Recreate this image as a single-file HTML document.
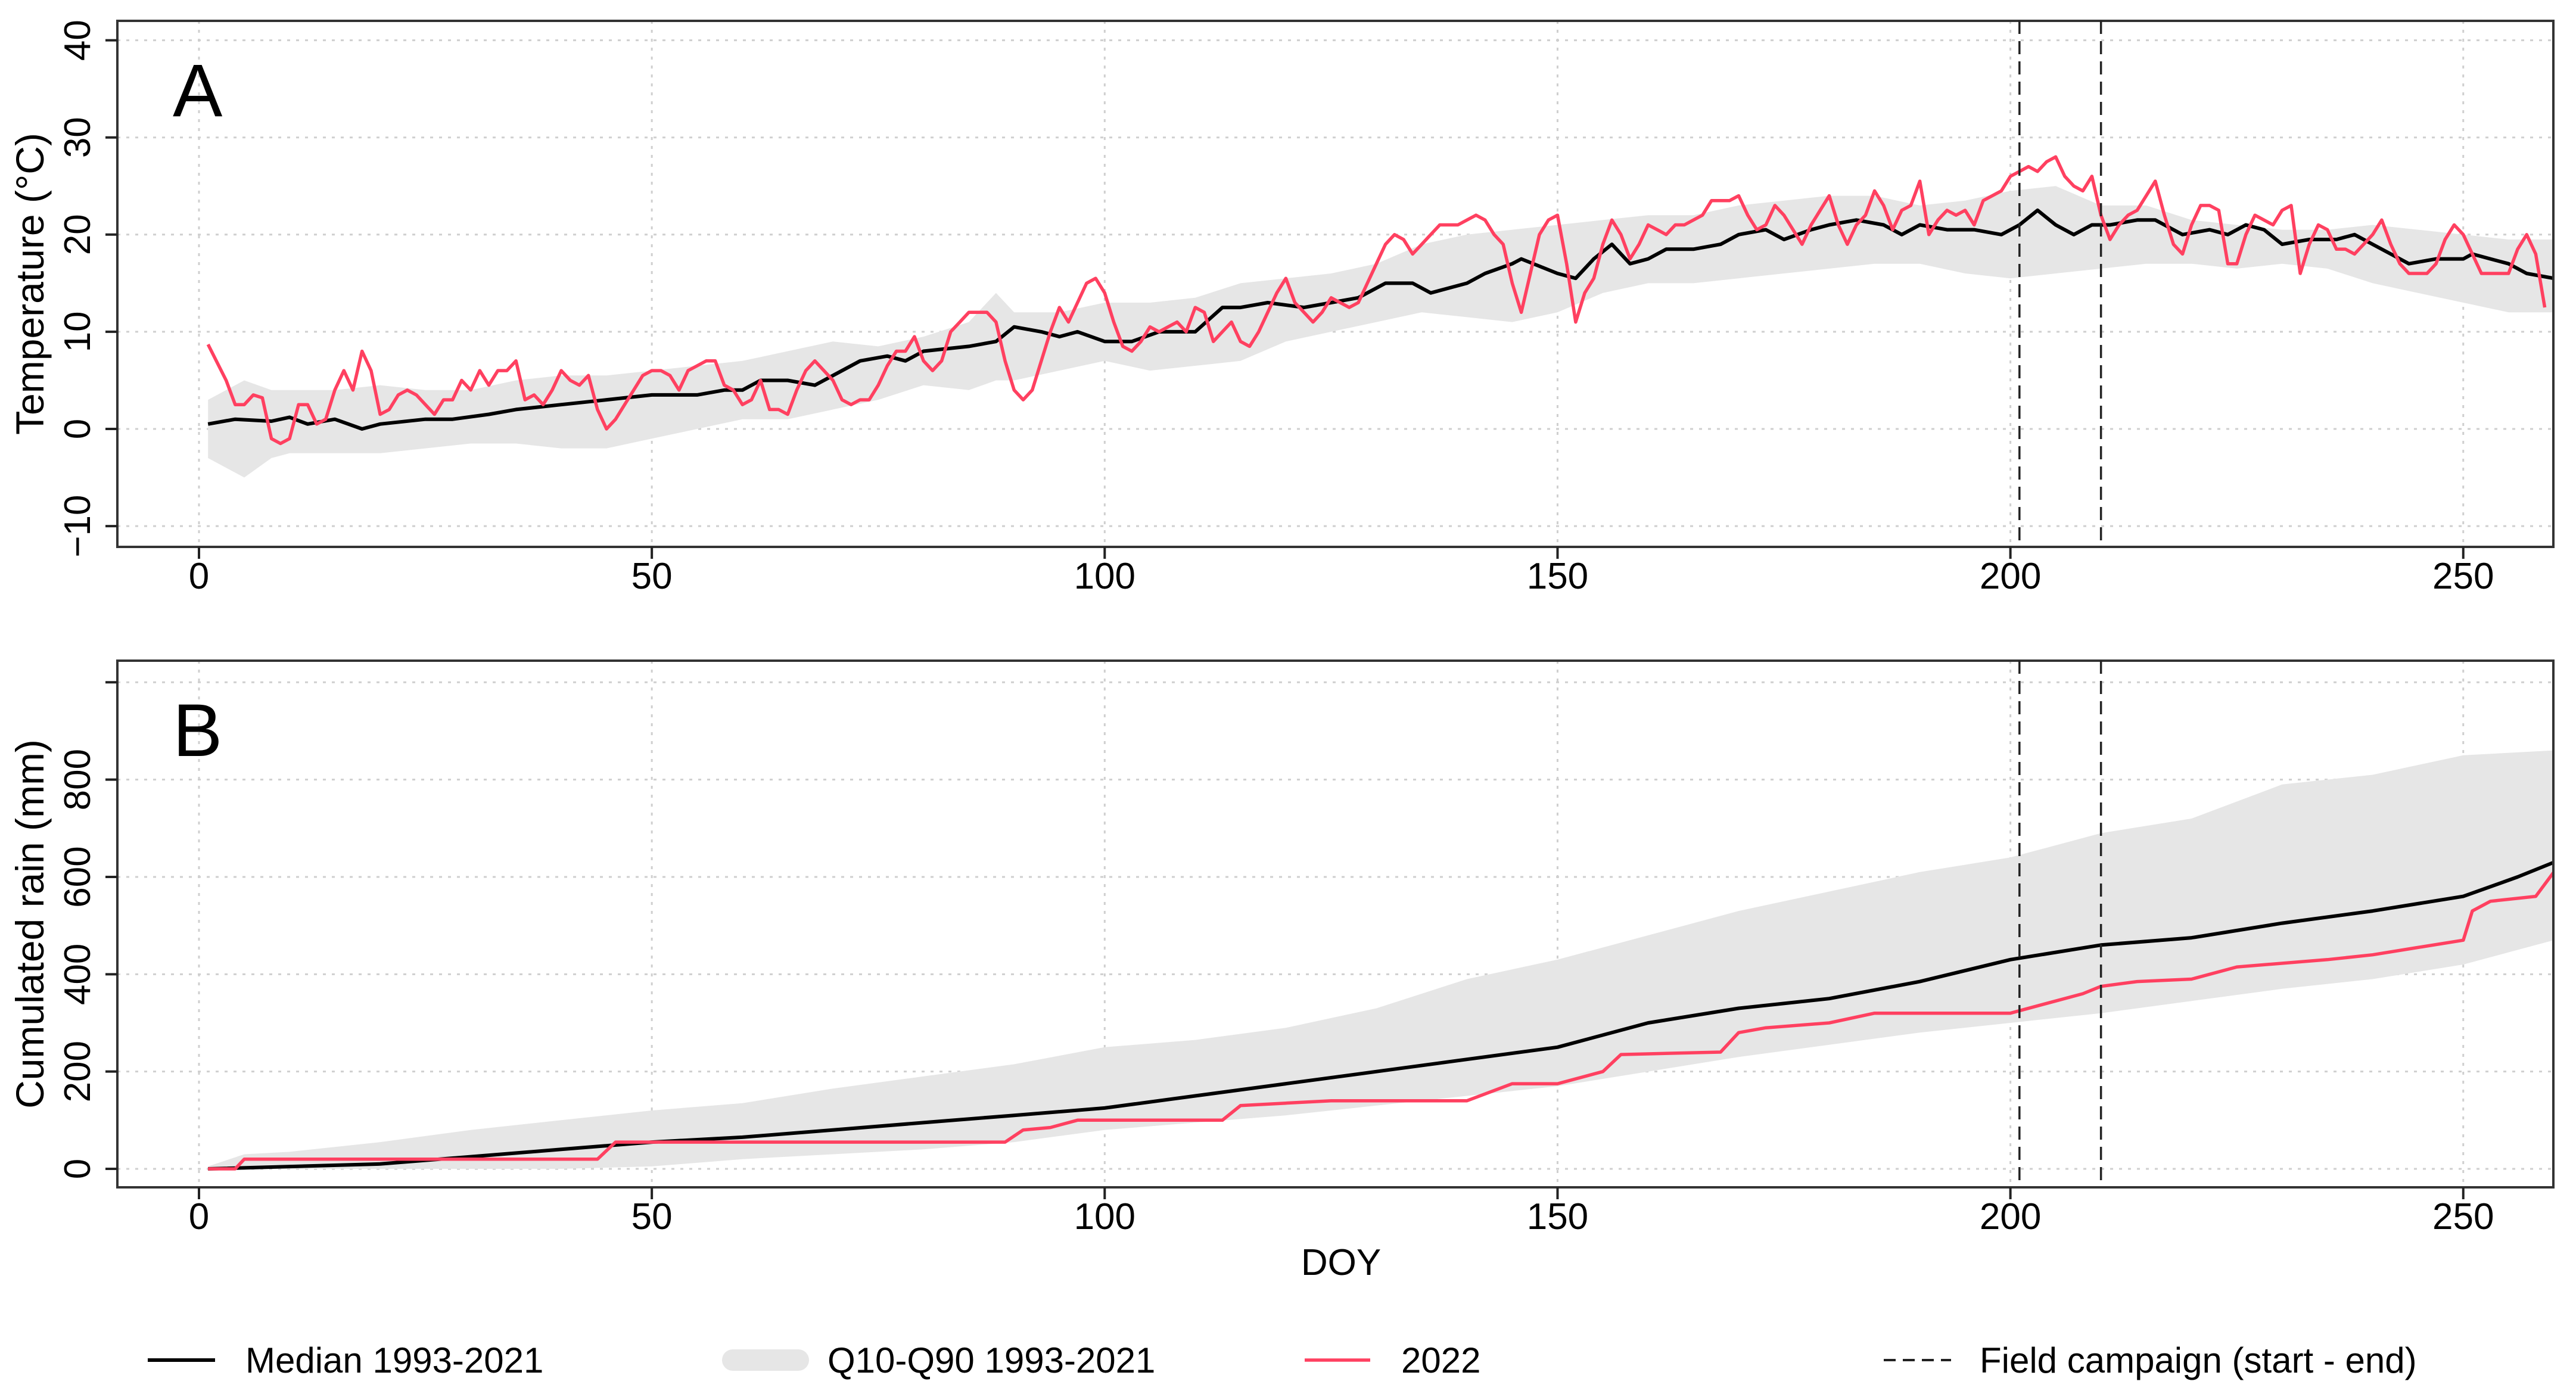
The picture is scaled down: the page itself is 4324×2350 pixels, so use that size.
<!DOCTYPE html>
<html><head><meta charset="utf-8"><style>
html,body{margin:0;padding:0;background:#fff;}
svg{display:block;font-family:"Liberation Sans",Arial,sans-serif;}
</style></head><body>
<svg id="chart" xmlns="http://www.w3.org/2000/svg" width="4324" height="2350" viewBox="0 0 4324 2350">
<rect width="4324" height="2350" fill="#fff"/>
<g id="layer"></g>
</svg>
<script>
// ---- Panel A data (temperature, °C) ----
const tDays2022 = [1,3,4,5,6,7,8,9,10,11,12,13,14,15,16,17,18,19,20,21,22,23,24,25,26,27,28,29,30,31,32,33,34,35,36,37,38,39,40,41,42,43,44,45,46,47,48,49,50,51,52,53,54,55,56,57,58,59,60,61,62,63,64,65,66,67,68,69,70,71,72,73,74,75,76,77,78,79,80,81,82,83,84,85,86,87,88,89,90,91,92,93,94,95,96,97,98,99,100,101,102,103,104,105,106,107,108,109,110,111,112,113,114,115,116,117,118,119,120,121,122,123,124,125,126,127,128,129,130,131,132,133,134,135,136,137,138,139,140,141,142,143,144,145,146,147,148,149,150,151,152,153,154,155,156,157,158,159,160,161,162,163,164,165,166,167,168,169,170,171,172,173,174,175,176,177,178,179,180,181,182,183,184,185,186,187,188,189,190,191,192,193,194,195,196,197,198,199,200,201,202,203,204,205,206,207,208,209,210,211,212,213,214,215,216,217,218,219,220,221,222,223,224,225,226,227,228,229,230,231,232,233,234,235,236,237,238,239,240,241,242,243,244,245,246,247,248,249,250,251,252,253,254,255,256,257,258,259,260];
const tValues2022 = [8.7,5,2.5,2.5,3.5,3.2,-1,-1.5,-1,2.5,2.5,0.5,1,4,6,4,8,6,1.5,2,3.5,4,3.5,2.5,1.5,3,3,5,4,6,4.5,6,6,7,3,3.5,2.5,4,6,5,4.5,5.5,2,0,1,2.5,4,5.5,6,6,5.5,4,6,6.5,7,7,4.5,4,2.5,3,5,2,2,1.5,4,6,7,6,5,3,2.5,3,3,4.5,6.5,8,8,9.5,7,6,7,10,11,12,12,12,11,7,4,3,4,7,10,12.5,11,13,15,15.5,14,11,8.5,8,9,10.5,10,10.5,11,10,12.5,12,9,10,11,9,8.5,10,12,14,15.5,13,12,11,12,13.5,13,12.5,13,15,17,19,20,19.5,18,19,20,21,21,21,21.5,22,21.5,20,19,15,12,16,20,21.5,22,17,11,14,15.5,19,21.5,20,17.5,19,21,20.5,20,21,21,21.5,22,23.5,23.5,23.5,24,22,20.5,21,23,22,20.5,19,21,22.5,24,21,19,21,22,24.5,23,20.5,22.5,23,25.5,20,21.5,22.5,22,22.5,21,23.5,24,24.5,26,26.5,27,26.5,27.5,28,26,25,24.5,26,22,19.5,21,22,22.5,24,25.5,22,19,18,21,23,23,22.5,17,17,20,22,21.5,21,22.5,23,16,19,21,20.5,18.5,18.5,18,19,20,21.5,19,17,16,16,16,17,19.5,21,20,18,16,16,16,16,18.5,20,18,12.5];
const tMedDays = [1,4,8,10,12,15,18,20,25,28,32,35,40,45,50,55,58,60,62,65,68,70,73,76,78,80,85,88,90,93,95,97,100,103,106,110,113,115,118,122,125,128,131,134,136,138,140,142,145,146,150,152,154,156,158,160,162,165,168,170,173,175,178,180,183,186,188,190,193,196,199,201,203,205,207,209,211,214,216,219,222,224,226,228,230,233,236,238,240,242,244,247,250,251,253,255,257,260];
const tMedian = [0.5,1,0.8,1.2,0.5,1,0,0.5,1,1,1.5,2,2.5,3,3.5,3.5,4,4,5,5,4.5,5.5,7,7.5,7,8,8.5,9,10.5,10,9.5,10,9,9,10,10,12.5,12.5,13,12.5,13,13.5,15,15,14,14.5,15,16,17,17.5,16,15.5,17.5,19,17,17.5,18.5,18.5,19,20,20.5,19.5,20.5,21,21.5,21,20,21,20.5,20.5,20,21,22.5,21,20,21,21,21.5,21.5,20,20.5,20,21,20.5,19,19.5,19.5,20,19,18,17,17.5,17.5,18,17.5,17,16,15.5];
const tBandDays = [1,5,8,10,15,20,25,30,35,40,45,50,55,60,65,70,75,80,85,88,90,95,100,105,110,115,120,125,130,135,140,145,150,155,160,165,170,175,180,185,190,195,200,205,210,215,220,225,230,235,240,245,250,255,260];
const tQ10 = [-3,-5,-3,-2.5,-2.5,-2.5,-2,-1.5,-1.5,-2,-2,-1,0,1,1,2,3,4.5,4,5,5,6,7,6,6.5,7,9,10,11,12,11.5,11,12,14,15,15,15.5,16,16.5,17,17,16,15.5,16,16.5,17,17,16.5,17,16.5,15,14,13,12,12];
const tQ90 = [3,5,4,4,4,4.5,4,4,5,5.5,5.5,6,6.5,7,8,9,8.5,9.5,11,14,12,12,13,13,13.5,15,15.5,16,17,19,20,20.5,21,21.5,22,22,23,23.5,24,24,23,23.5,24.5,25,23,23,21.5,21,20.5,20.5,21,20.5,20,19.5,19.5];
// ---- Panel B data (cumulated rain, mm) ----
const rMedDays = [1,20,30,40,50,60,70,80,90,100,110,120,130,140,150,160,170,180,190,200,210,220,230,240,250,256,260];
const rMedian = [0,10,25,40,55,65,80,95,110,125,150,175,200,225,250,300,330,350,385,430,460,475,505,530,560,600,630];
const r2022Days = [1,4,5,44,46,89,91,94,97,113,115,120,125,140,145,150,155,157,168,170,173,180,185,200,204,208,210,214,220,225,235,240,245,250,251,253,258,260];
const r2022 = [0,0,20,20,55,55,80,85,100,100,130,135,140,140,175,175,200,235,240,280,290,300,320,320,340,360,375,385,390,415,430,440,455,470,530,550,560,610];
const rBandDays = [1,5,10,20,30,40,50,60,70,80,90,100,110,120,130,140,150,160,170,180,190,200,210,220,230,240,250,260];
const rQ10 = [0,0,0,0,0,0,5,20,30,40,55,80,95,110,130,150,170,200,230,255,280,300,320,345,370,390,420,470];
const rQ90 = [5,30,35,55,80,100,120,135,165,190,215,250,265,290,330,390,430,480,530,570,610,640,690,720,790,810,850,860];
// ---- axes ----
const xTicks = [0,50,100,150,200,250];
const tTicks = [-10,0,10,20,30,40];
const rTicks = [0,200,400,600,800,1000];
const rTickLabels = ["0","200","400","600","800",""];
const campaign = [201,210];

const NS="http://www.w3.org/2000/svg";
const L=document.getElementById('layer');
const X0=197,X1=4286;
function x(d){return 334+d*15.203;}
function yA(v){return 720-v*16.31;}
function yB(v){return 1962-v*0.8167;}
function el(tag,attrs,parent){const e=document.createElementNS(NS,tag);for(const k in attrs)e.setAttribute(k,attrs[k]);(parent||L).appendChild(e);return e;}
function pts(ds,vs,fy){return ds.map((d,i)=>x(d).toFixed(1)+','+fy(vs[i]).toFixed(1)).join(' ');}

function panel(name,top,bottom,fy,ticks){
  const g=el('g',{});
  
  
  xTicks.forEach(t=>{const l=el('line',{x1:x(t),x2:x(t),y1:top,y2:bottom,stroke:'#cfcfcf','stroke-width':3,'stroke-dasharray':'5 10'},g);
    
    });
  ticks.forEach(t=>{const l=el('line',{x1:X0,x2:X1,y1:fy(t),y2:fy(t),stroke:'#cfcfcf','stroke-width':3,'stroke-dasharray':'5 10'},g);
    
    });
  return g;
}
function frame(g,top,bottom,fy,ticks,labels,letter,ytitle,name){
  const r=el('rect',{x:X0,y:top,width:X1-X0,height:bottom-top,fill:'none',stroke:'#333','stroke-width':4},g);
  
  
  ticks.forEach((t,i)=>{
    el('line',{x1:X0-20,x2:X0,y1:fy(t),y2:fy(t),stroke:'#222','stroke-width':4},g);
    if(labels[i]!==''){const tx=el('text',{x:0,y:0,transform:`translate(151,${fy(t)}) rotate(-90)`,'text-anchor':'middle','font-size':62,fill:'#000'},g);
      tx.textContent=labels[i];
      
      }
  });
  xTicks.forEach(t=>{
    el('line',{x1:x(t),x2:x(t),y1:bottom,y2:bottom+20,stroke:'#222','stroke-width':4},g);
    const tx=el('text',{x:x(t),y:bottom+70,'text-anchor':'middle','font-size':62,fill:'#000'},g);
    tx.textContent=t;
    
    
  });
  const lt=el('text',{x:290,y:top+160,'font-size':125,fill:'#000'},g);
  lt.textContent=letter;
  
  
  const yt=el('text',{x:0,y:0,transform:`translate(73,${(top+bottom)/2}) rotate(-90)`,'text-anchor':'middle','font-size':66,fill:'#000'},g);
  yt.textContent=ytitle;
  
  
  campaign.forEach(d=>{const l=el('line',{x1:x(d),x2:x(d),y1:top,y2:bottom,stroke:'#222','stroke-width':3.5,'stroke-dasharray':'22 12'},g);
    
    });
}
function series(g,bandD,lo,hi,medD,med,redD,red,fy,pfx){
  const band=el('polygon',{points:pts(bandD,hi,fy)+' '+pts(bandD.slice().reverse(),lo.slice().reverse(),fy),fill:'#e6e6e6',stroke:'none'},g);
  
  
  const m=el('polyline',{points:pts(medD,med,fy),fill:'none',stroke:'#000','stroke-width':6,'stroke-linejoin':'round'},g);
  
  
  const r=el('polyline',{points:pts(redD,red,fy),fill:'none',stroke:'#ff4060','stroke-width':5.5,'stroke-linejoin':'round'},g);
  
  
}
const defs=el('defs',{});
const cpA=el('clipPath',{id:'cA'},defs);el('rect',{x:X0,y:35,width:X1-X0,height:883},cpA);
const cpB=el('clipPath',{id:'cB'},defs);el('rect',{x:X0,y:1109,width:X1-X0,height:884},cpB);

const gA=panel('temperature',35,918,yA,tTicks);
const sA=el('g',{'clip-path':'url(#cA)'},gA);
series(sA,tBandDays,tQ10,tQ90,tMedDays,tMedian,tDays2022,tValues2022,yA,'temperature');
frame(gA,35,918,yA,tTicks,tTicks.map(t=>t<0?'\u2212'+(-t):String(t)),'A','Temperature (°C)','temperature');

const gB=panel('rain',1109,1993,yB,rTicks);
const sB=el('g',{'clip-path':'url(#cB)'},gB);
series(sB,rBandDays,rQ10,rQ90,rMedDays,rMedian,r2022Days,r2022,yB,'rain');
frame(gB,1109,1993,yB,rTicks,rTickLabels,'B','Cumulated rain (mm)','rain');

const xt=el('text',{x:2251,y:2140,'text-anchor':'middle','font-size':62,fill:'#000'});
xt.textContent='DOY';



const lg=el('g',{});


function legendEntry(name,sym,tx,label){
  const g=el('g',{},lg);
  
  
  sym(g);
  const t=el('text',{x:tx,y:2304,'font-size':60,fill:'#000'},g);
  t.textContent=label;
}
legendEntry('legend-median',g=>el('line',{x1:248,x2:361,y1:2283,y2:2283,stroke:'#000','stroke-width':6},g),412,'Median 1993-2021');
legendEntry('legend-q10-q90',g=>el('line',{x1:1230,x2:1340,y1:2283,y2:2283,stroke:'#e6e6e6','stroke-width':36,'stroke-linecap':'round'},g),1389,'Q10-Q90 1993-2021');
legendEntry('legend-2022',g=>el('line',{x1:2190,x2:2300,y1:2283,y2:2283,stroke:'#ff4060','stroke-width':5.5},g),2352,'2022');
legendEntry('legend-field-campaign',g=>el('line',{x1:3162,x2:3275,y1:2283,y2:2283,stroke:'#222','stroke-width':4,'stroke-dasharray':'20 12'},g),3323,'Field campaign (start - end)');
</script>
</body></html>
